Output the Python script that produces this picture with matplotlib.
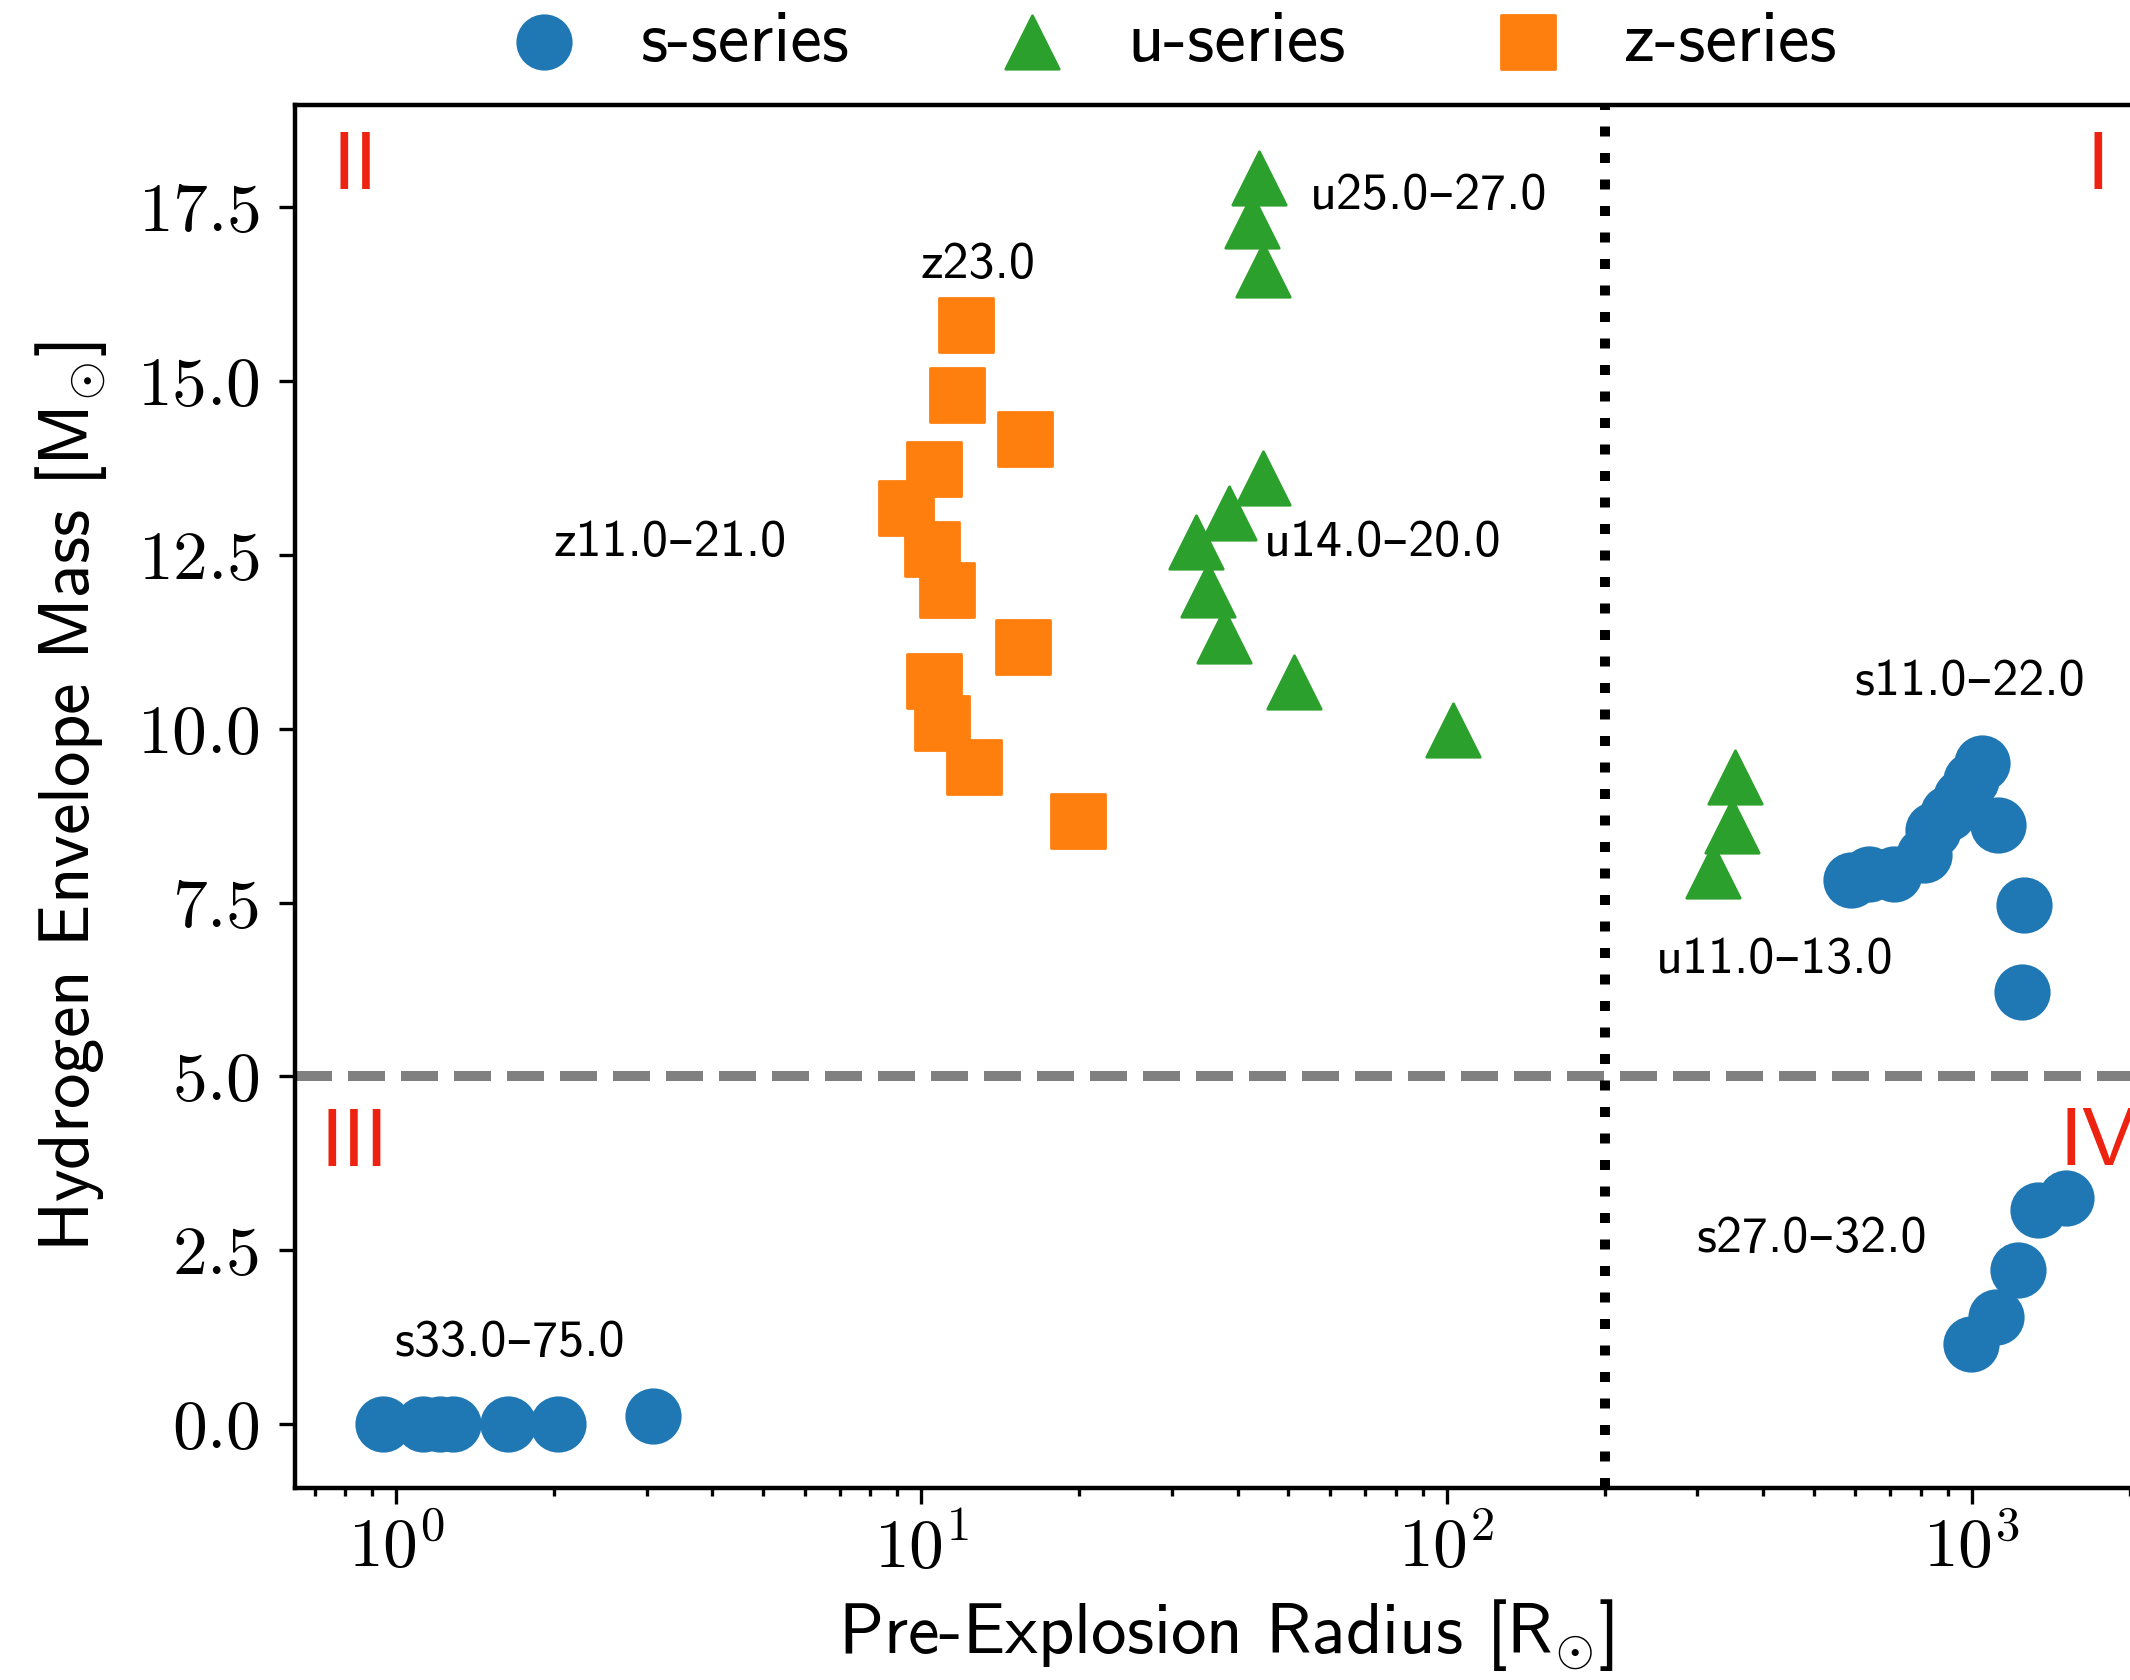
import math
import matplotlib
matplotlib.use("Agg")
import matplotlib.pyplot as plt
from matplotlib.ticker import FixedLocator, FuncFormatter, LogLocator, NullFormatter

plt.rcParams["mathtext.fontset"] = "cm"
plt.rcParams["font.family"] = ["cmss10", "DejaVu Sans"]
plt.rcParams["axes.unicode_minus"] = False

# ---- model grid: pre-explosion radius [R_sun] and hydrogen envelope mass [M_sun]
s_radius = [588, 637, 711, 812, 845, 900, 955, 998, 1045, 1124, 1256, 1248,   # s11-22
            995, 1112, 1225, 1334, 1511,                                      # s27-32
            0.943, 1.127, 1.213, 1.286, 1.636, 2.037, 3.08]                   # s33-75
s_mass = [7.83, 7.91, 7.91, 8.18, 8.54, 8.79, 9.02, 9.26, 9.51, 8.61, 7.46, 6.21,
          1.15, 1.54, 2.22, 3.08, 3.25,
          0.0, 0.0, 0.0, 0.0, 0.0, 0.0, 0.12]

u_radius = [354, 349, 322,                                  # u11-13
            44.8, 38.5, 33.4, 35.2, 37.7, 51.3, 103.0,      # u14-20
            44.0, 42.7, 44.8]                               # u25-27
u_mass = [9.30, 8.60, 7.95,
          13.60, 13.10, 12.68, 12.00, 11.34, 10.67, 9.98,
          17.92, 17.30, 16.59]

z_radius = [11.71, 15.75, 10.59, 9.35, 10.49, 11.18, 15.60, 10.59, 10.94, 12.62, 19.85,  # z11-21
            12.15]                                                                    # z23
z_mass = [14.80, 14.16, 13.73, 13.18, 12.59, 11.99, 11.18, 10.68, 10.08, 9.45, 8.67,
          15.81]

group_labels = ["z23.0", "u25.0–27.0", "u14.0–20.0", "z11.0–21.0",
                "s33.0–75.0", "s11.0–22.0", "u11.0–13.0", "s27.0–32.0"]
group_label_x = [12.82, 92.6, 75.7, 3.32, 1.648, 992, 422, 496]
group_label_y = [16.475, 17.47, 12.48, 12.48, 0.978, 10.48, 6.48, 2.48]

quadrant_names = ["I", "II", "III", "IV"]
quadrant_x = [1738, 0.834, 0.834, 1738]
quadrant_y = [17.76, 17.76, 3.71, 3.73]

radius_split = 200.0
mass_split = 5.0

y_ticks = [0.0, 2.5, 5.0, 7.5, 10.0, 12.5, 15.0, 17.5]

fig = plt.figure(figsize=(10.65, 8.4), dpi=200)
ax = fig.add_axes([0.1385, 0.1143, 0.8737, 0.8232])

msize = 370
hs = ax.scatter(s_radius, s_mass, s=msize, marker="o", color="#1f77b4", label="s-series", zorder=3)
hu = ax.scatter(u_radius, u_mass, s=msize, marker="^", color="#2ca02c", label="u-series", zorder=3)
hz = ax.scatter(z_radius, z_mass, s=msize, marker="s", color="#ff7f0e", label="z-series", zorder=3)

ax.axhline(mass_split, color="gray", ls="--", lw=3.6, zorder=2)
ax.axvline(radius_split, color="black", ls=":", lw=3.6, zorder=2)

for txt, x, y in zip(group_labels, group_label_x, group_label_y):
    ax.text(x, y, txt, ha="center", va="baseline", fontsize=18.7, color="black")

for txt, x, y in zip(quadrant_names, quadrant_x, quadrant_y):
    ax.text(x, y, txt, ha="center", va="baseline", fontsize=29.5, color="#ee2211")

ax.set_xscale("log")
ax.set_xlim(0.642, 2242)
ax.set_ylim(-0.92, 18.97)

ax.yaxis.set_major_locator(FixedLocator(y_ticks))
ax.yaxis.set_major_formatter(FuncFormatter(lambda v, p: r"$%.1f$" % v))
ax.xaxis.set_major_locator(LogLocator(base=10))
ax.xaxis.set_major_formatter(FuncFormatter(lambda v, p: r"$10^{%d}$" % round(math.log10(v))))
ax.xaxis.set_minor_locator(LogLocator(base=10, subs=range(2, 10)))
ax.xaxis.set_minor_formatter(NullFormatter())

ax.tick_params(axis="both", which="major", direction="out", length=5.8, width=1.2, labelsize=25)
ax.tick_params(axis="y", which="major", pad=7)
ax.tick_params(axis="x", which="major", pad=4)
ax.tick_params(axis="x", which="minor", direction="out", length=3.0, width=1.2)
for sp in ax.spines.values():
    sp.set_linewidth(1.6)

ax.set_xlabel(r"Pre-Explosion Radius [$\mathsf{R}_{\odot}$]", fontsize=25.5, labelpad=6)
ax.set_ylabel(r"Hydrogen Envelope Mass [$\mathsf{M}_{\odot}$]", fontsize=25.5, labelpad=10)

fig.legend(handles=[hs, hu, hz], loc="center", bbox_to_anchor=(0.5506, 0.9746),
           ncol=3, frameon=False, fontsize=25.5, handlelength=1.0,
           handletextpad=0.85, columnspacing=2.08, scatterpoints=1)

fig.savefig("out.png", dpi=200)
